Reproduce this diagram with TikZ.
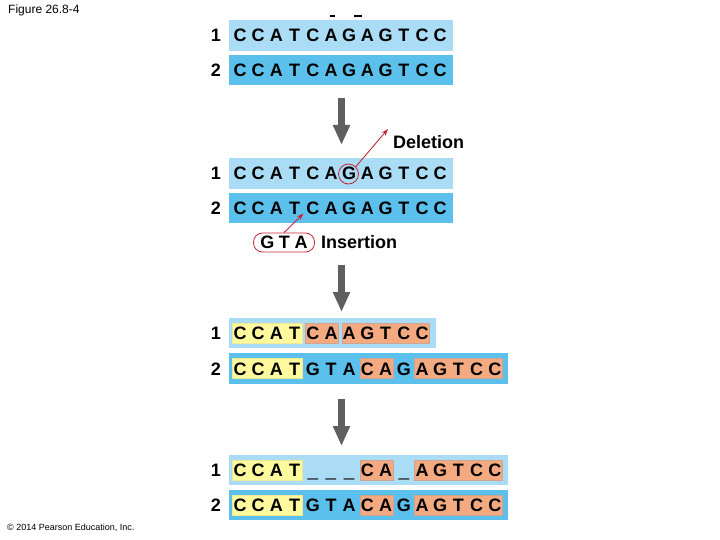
\documentclass[tikz,border=0pt]{standalone}
\usepackage{fontspec}
\setmainfont{Liberation Sans}
\usetikzlibrary{arrows.meta}
\definecolor{rowlight}{RGB}{170,220,245}
\definecolor{rowdark}{RGB}{92,192,236}
\definecolor{hlyel}{RGB}{255,249,158}
\definecolor{hlyelb}{RGB}{240,232,150}
\definecolor{hlor}{RGB}{244,170,128}
\definecolor{hlorb}{RGB}{205,165,145}
\definecolor{flowgray}{RGB}{95,95,95}
\definecolor{markred}{RGB}{196,40,56}
\newcommand\seqfont{\fontsize{18}{18}\selectfont\bfseries}
\newcommand\seqletters[3]{%
  \foreach \ch [count=\i] in {#3} {\node[seqch] (#1-\i) at ({240+(\i-1)*18.2},#2) {\ch};}}
\newcommand\seqpairs[3]{%
  \foreach \p/\ch in {#3} {\node[seqch] (#1-\p) at ({240+(\p-1)*18.2},#2) {\ch};}}
\newcommand\seqgaps[3]{%
  \foreach \p in {#3} {\node[seqch] (#1-g\p) at ({240+(\p-1)*18.2},#2) {\scalebox{1.05}[1.6]{\_}};}}
\newcommand\hlbox[4]{% color, y center, first, last
  \path[fill=hl#1, draw=hl#1b, line width=0.5pt]
    ({240+(#3-1)*18.2-7.4},{#2-10}) rectangle ({240+(#4-1)*18.2+7.4},{#2+10});}
\begin{document}
\begin{tikzpicture}[x=1pt,y=-1pt,
  seqch/.style={font=\seqfont, inner sep=0pt, text height=12.9pt, text depth=0pt, anchor=base},
  rowbox/.style={inner sep=0pt, outer sep=0pt, minimum height=30.5pt},
  flow/.style={draw=flowgray, line width=7pt, -{Triangle[length=20pt,width=16pt]}},
  markarrow/.style={draw=markred, line width=0.9pt, -{Stealth[length=7pt,width=5pt]}},
  lbl/.style={font=\seqfont, inner sep=0pt, anchor=base west}]
\useasboundingbox (0,0) rectangle (720,540);

\node[anchor=base west, inner sep=0pt, font=\fontsize{12}{12}\selectfont] (figlbl) at (8,13.5) {Figure 26.8-4};
\node[anchor=base west, inner sep=0pt, font=\fontsize{9}{9}\selectfont] (copy) at (7,530.5) {© 2014 Pearson Education, Inc.};
\draw[line width=1.3pt] (330,16) -- (335,16) (354,16) -- (362,16);

% ---- stage 1
\node[rowbox, fill=rowlight, minimum width=224pt] (box1) at (341,35.5) {};
\node[rowbox, fill=rowdark, minimum width=224pt] (box2) at (341,70) {};
\node[seqch] (n1) at (216,42) {1};
\node[seqch] (n2) at (216,76.5) {2};
\seqletters{ra}{42}{C,C,A,T,C,A,G,A,G,T,C,C}
\seqletters{rb}{76.5}{C,C,A,T,C,A,G,A,G,T,C,C}

\coordinate (f1s) at (341.5,98);
\coordinate (f1e) at (341.5,145);
\draw[flow] (f1s) -- (f1e);

% ---- stage 2
\node[rowbox, fill=rowlight, minimum width=224pt] (box3) at (341,173.5) {};
\node[rowbox, fill=rowdark, minimum width=224pt] (box4) at (341,208) {};
\node[seqch] (n3) at (216,180) {1};
\node[seqch] (n4) at (216,214.5) {2};
\seqletters{rc}{180}{C,C,A,T,C,A,G,A,G,T,C,C}
\seqletters{rd}{214.5}{C,C,A,T,C,A,G,A,G,T,C,C}
\node[circle, draw=markred, line width=0.8pt, minimum size=20pt, inner sep=0pt] (gcirc) at (348.5,174) {};
\coordinate (delend) at (388,129);
\draw[markarrow] (gcirc.45) -- (delend);
\node[lbl] (dellbl) at (393,149) {Deletion};
\node[draw=markred, line width=0.8pt, rounded corners=9pt, minimum width=61pt, minimum height=19pt,
      inner sep=0pt, font=\seqfont, text height=12.9pt, text depth=0pt] (gta) at (284,242.5)
      {G\hspace{4.5pt}T\hspace{5pt}A};
\coordinate (insend) at (303.5,213.5);
\draw[markarrow] (gta.north) -- (insend);
\node[lbl] (inslbl) at (321,248.4) {Insertion};

\coordinate (f2s) at (341.5,265);
\coordinate (f2e) at (341.5,312);
\draw[flow] (f2s) -- (f2e);

% ---- stage 3
\node[rowbox, fill=rowlight, minimum width=207pt] (box5) at (332.5,333) {};
\node[rowbox, fill=rowdark, minimum width=279pt] (box6) at (368.5,368.5) {};
\node[seqch] (n5) at (216,339.5) {1};
\node[seqch] (n6) at (216,375) {2};
\hlbox{yel}{333}{1}{4}
\hlbox{or}{333}{5}{6}
\hlbox{or}{333}{7}{11}
\hlbox{yel}{368.5}{1}{4}
\hlbox{or}{368.5}{8}{9}
\hlbox{or}{368.5}{11}{15}
\seqletters{re}{339.5}{C,C,A,T,C,A,A,G,T,C,C}
\seqletters{rf}{375}{C,C,A,T,G,T,A,C,A,G,A,G,T,C,C}

\coordinate (f3s) at (341.5,399);
\coordinate (f3e) at (341.5,446);
\draw[flow] (f3s) -- (f3e);

% ---- stage 4
\node[rowbox, fill=rowlight, minimum width=279pt] (box7) at (368.5,470) {};
\node[rowbox, fill=rowdark, minimum width=279pt] (box8) at (368.5,505) {};
\node[seqch] (n7) at (216,476.5) {1};
\node[seqch] (n8) at (216,511.5) {2};
\hlbox{yel}{470}{1}{4}
\hlbox{or}{470}{8}{9}
\hlbox{or}{470}{11}{15}
\hlbox{yel}{505}{1}{4}
\hlbox{or}{505}{8}{9}
\hlbox{or}{505}{11}{15}
\seqpairs{rg}{476.5}{1/C,2/C,3/A,4/T,8/C,9/A,11/A,12/G,13/T,14/C,15/C}
\seqgaps{rg}{476.5}{5,6,7,10}
\seqletters{rh}{511.5}{C,C,A,T,G,T,A,C,A,G,A,G,T,C,C}
\end{tikzpicture}
\end{document}
